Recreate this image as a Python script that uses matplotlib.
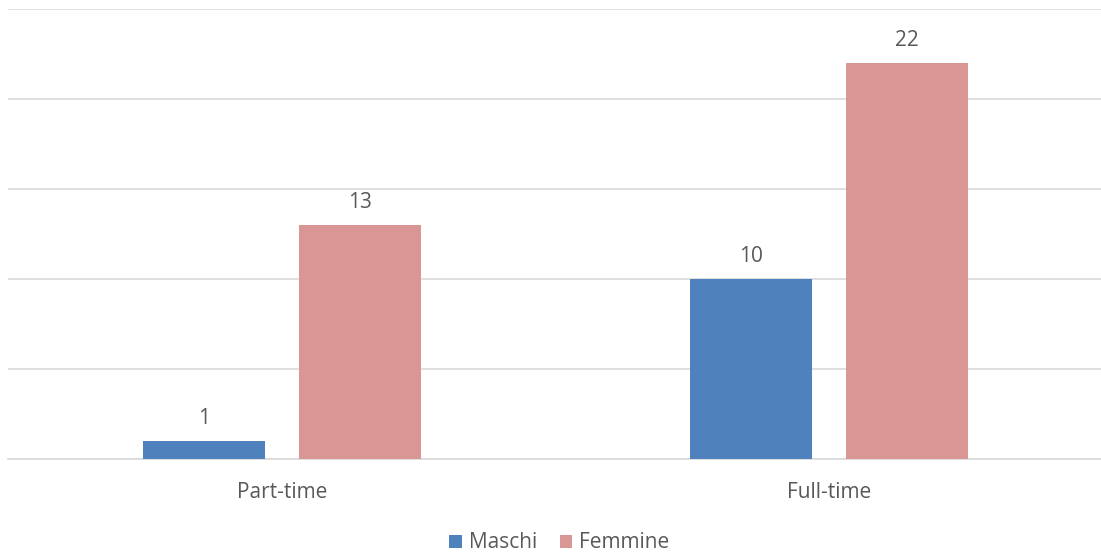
import matplotlib
matplotlib.use("Agg")
import matplotlib.pyplot as plt
import numpy as np

categories = ["Part-time", "Full-time"]
series_names = ["Maschi", "Femmine"]
maschi = [1, 10]
femmine = [13, 22]
colors = ["#4F81BD", "#D99694"]
text_color = "#595959"
grid_color = "#D9D9D9"

plt.rcParams["font.family"] = ["Open Sans", "DejaVu Sans"]
fs = 15

fig = plt.figure(figsize=(11.01, 5.59), dpi=100)
ax = fig.add_axes([8.2 / 1101, 100 / 559, 1094.5 / 1101, 450 / 559])

x = np.arange(len(categories))
width = 0.223
offset = 0.142

for vals, name, col, sign in [(maschi, series_names[0], colors[0], -1),
                              (femmine, series_names[1], colors[1], 1)]:
    bars = ax.bar(x + sign * offset, vals, width, color=col, label=name, zorder=3)
    for rect, v in zip(bars, vals):
        ax.annotate(str(v), (rect.get_x() + rect.get_width() / 2, v),
                    xytext=(0, 9), textcoords="offset points",
                    ha="center", va="bottom", fontsize=fs, color=text_color)

ax.set_xlim(-0.5, 1.5)
ax.set_ylim(0, 25)
ax.set_yticks(np.arange(0, 26, 5))
ax.yaxis.grid(True, color=grid_color, linewidth=1.2, zorder=0)
ax.tick_params(axis="y", left=False, labelleft=False)
ax.tick_params(axis="x", bottom=False, colors=text_color, labelsize=fs, pad=13)
ax.set_xticks(x)
ax.set_xticklabels(categories)
for s in ["top", "left", "right"]:
    ax.spines[s].set_visible(False)
ax.spines["bottom"].set_color(grid_color)
ax.spines["bottom"].set_linewidth(1.2)

leg = fig.legend(loc="center", bbox_to_anchor=(559.5 / 1101, 1 - 543 / 559), ncol=2,
                 frameon=False, fontsize=fs, handlelength=0.6, handleheight=0.6,
                 handletextpad=0.35, columnspacing=1.06)
for t in leg.get_texts():
    t.set_color(text_color)

fig.savefig("out.png", dpi=100)
